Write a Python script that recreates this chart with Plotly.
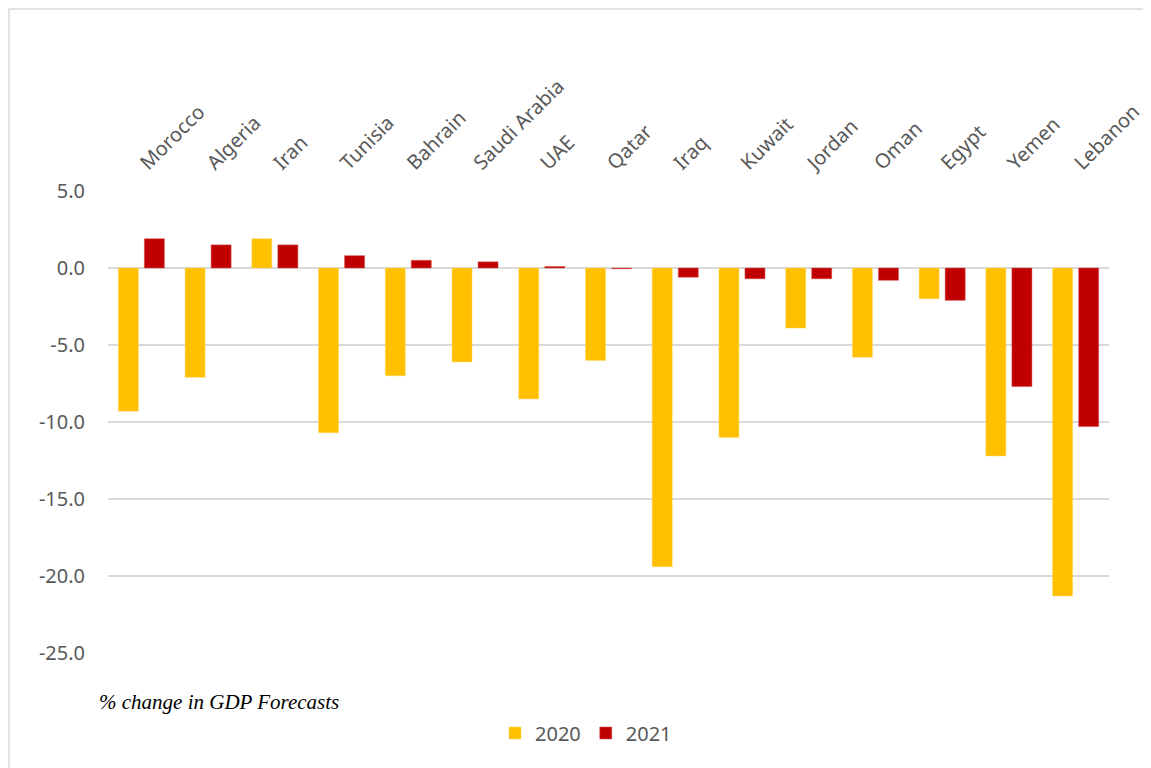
import plotly.graph_objects as go

countries = ["Morocco", "Algeria", "Iran", "Tunisia", "Bahrain", "Saudi Arabia", "UAE", "Qatar",
             "Iraq", "Kuwait", "Jordan", "Oman", "Egypt", "Yemen", "Lebanon"]
gdp_2020 = [-9.3, -7.1, 1.9, -10.7, -7.0, -6.1, -8.5, -6.0, -19.4, -11.0, -3.9, -5.8, -2.0, -12.2, -21.3]
gdp_2021 = [1.9, 1.5, 1.5, 0.8, 0.5, 0.4, 0.1, -0.05, -0.6, -0.7, -0.7, -0.8, -2.1, -7.7, -10.3]
y_ticks = [5, 0, -5, -10, -15, -20, -25]
y_tick_labels = ["5.0", "0.0", "-5.0", "-10.0", "-15.0", "-20.0", "-25.0"]

OFF = 8  # page offset of the figure
W, H = 1151 - OFF, 768 - OFF
L, R, T, B = 108 - OFF, 42, 191 - OFF, 115
pw, ph = W - L - R, H - T - B

def px(x):
    return (x - OFF - L) / pw

def py(y):
    return (H - B - (y - OFF)) / ph

fig = go.Figure()
fig.add_trace(go.Bar(x=countries, y=gdp_2020, name="2020",
                     marker=dict(color="#FFC000", line=dict(color="#FFD966", width=0.5))))
fig.add_trace(go.Bar(x=countries, y=gdp_2021, name="2021",
                     marker=dict(color="#C00000", line=dict(color="#D65050", width=0.5))))

font = "Noto Sans"
fig.update_layout(
    width=W, height=H,
    margin=dict(l=L, r=R, t=T, b=B, autoexpand=False),
    paper_bgcolor="white", plot_bgcolor="white",
    barmode="group", bargap=0.22, bargroupgap=0.23,
    font=dict(family=font, color="#595959", size=20),
    xaxis=dict(side="top", tickangle=-45, showgrid=False, showline=False, ticks="",
               ticklabelstandoff=12,
               tickfont=dict(size=20, color="#595959"), fixedrange=True),
    yaxis=dict(range=[-25, 5], tickvals=y_ticks, ticktext=y_tick_labels,
               showgrid=True, gridcolor="#d9d9d9", gridwidth=1.5,
               zeroline=True, zerolinecolor="#d9d9d9", zerolinewidth=1.5,
               showline=False, ticks="", ticklabelstandoff=22,
               tickfont=dict(size=20, color="#595959")),
    legend=dict(orientation="h", x=px(586), xanchor="center", y=py(733), yanchor="middle",
                font=dict(size=20, color="#595959"), itemwidth=30, traceorder="normal"),
    showlegend=True,
    annotations=[dict(text="<i>% change in GDP Forecasts</i>", xref="paper", yref="paper",
                      x=px(97), y=py(702), xanchor="left", yanchor="middle", showarrow=False,
                      font=dict(family="Liberation Serif", size=21, color="black"))],
    shapes=[dict(type="rect", xref="paper", yref="paper",
                 x0=px(OFF + 1), x1=px(1170), y0=py(790), y1=py(OFF + 1),
                 line=dict(color="#d9d9d9", width=1.5), fillcolor="rgba(0,0,0,0)", layer="below")],
)

fig.write_html("out.html")
